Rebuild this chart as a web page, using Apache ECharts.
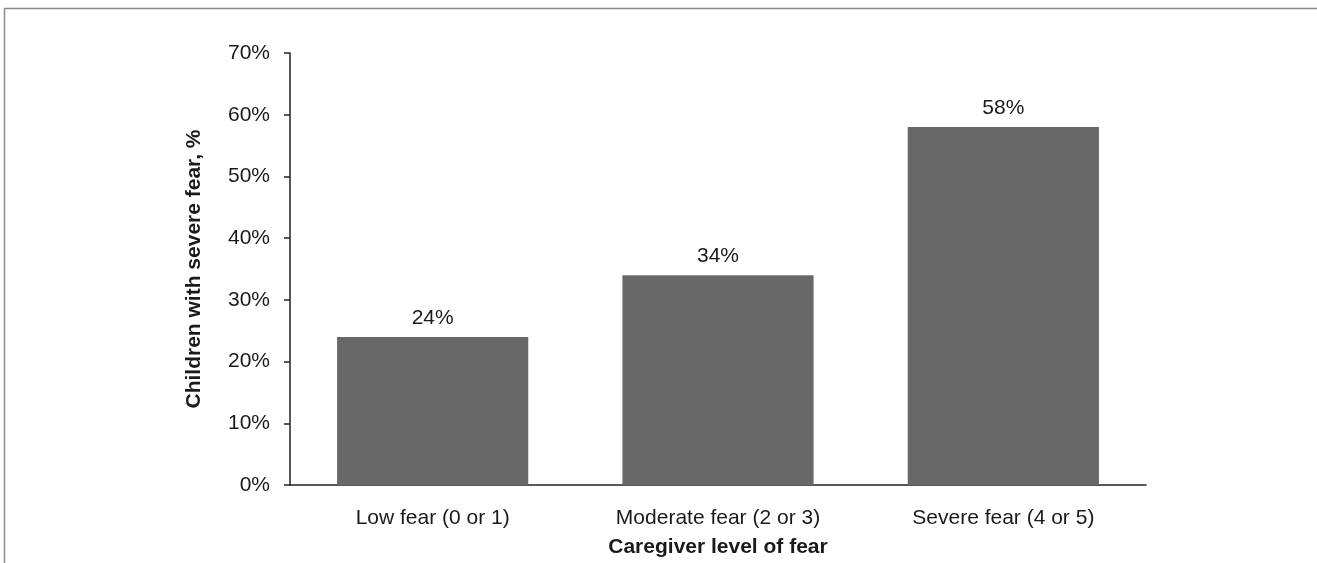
<!DOCTYPE html>
<html>
<head>
<meta charset="utf-8">
<script src="https://cdn.jsdelivr.net/npm/echarts@6/dist/echarts.min.js"></script>
<style>
  html, body { margin: 0; padding: 0; background: #fff; }
  #chart { width: 1317px; height: 563px; }
</style>
</head>
<body>
<div id="chart"></div>
<script>
// Share of children with severe fear, by caregiver level of fear
const categories = ['Low fear (0 or 1)', 'Moderate fear (2 or 3)', 'Severe fear (4 or 5)'];
const percentValues = [24, 34, 58];
const yTickValues = [0, 10, 20, 30, 40, 50, 60, 70];

const FONT = '"Liberation Sans", Arial, Helvetica, sans-serif';
const TEXT = '#1a1a1a';
const SIZE = 21;

const chart = echarts.init(document.getElementById('chart'), null, { renderer: 'canvas' });

chart.setOption({
  animation: false,
  backgroundColor: '#fff',
  grid: { left: 290, right: 171, top: 53, bottom: 76, containLabel: false },
  xAxis: {
    type: 'category',
    data: categories,
    axisLine: { show: true, lineStyle: { color: '#222', width: 1.5 } },
    axisTick: { show: false },
    axisLabel: { color: TEXT, fontFamily: FONT, fontSize: SIZE, margin: 23 },
    name: 'Caregiver level of fear',
    nameLocation: 'middle',
    nameGap: 52,
    nameTextStyle: { color: TEXT, fontFamily: FONT, fontSize: SIZE, fontWeight: 'bold' }
  },
  yAxis: {
    type: 'value',
    min: yTickValues[0],
    max: yTickValues[yTickValues.length - 1],
    interval: 10,
    axisLine: { show: true, lineStyle: { color: '#222', width: 1.5 } },
    axisTick: { show: true, length: 6, lineStyle: { color: '#222', width: 1.5 } },
    splitLine: { show: false },
    axisLabel: {
      color: TEXT, fontFamily: FONT, fontSize: SIZE, margin: 20,
      formatter: v => v + '%'
    },
    name: 'Children with severe fear, %',
    nameLocation: 'middle',
    nameGap: 85,
    nameTextStyle: { color: TEXT, fontFamily: FONT, fontSize: SIZE, fontWeight: 'bold' }
  },
  series: [{
    type: 'bar',
    data: percentValues,
    barCategoryGap: '33%',
    itemStyle: { color: '#686868' },
    label: {
      show: true,
      position: 'top',
      distance: 8,
      color: TEXT,
      fontFamily: FONT,
      fontSize: SIZE,
      formatter: p => p.value + '%'
    }
  }],
  graphic: [
    { type: 'line', shape: { x1: 4, y1: 8.5, x2: 1317, y2: 8.5 }, style: { stroke: '#8a8a8a', lineWidth: 1.5 } },
    { type: 'line', shape: { x1: 4.5, y1: 8, x2: 4.5, y2: 563 }, style: { stroke: '#8a8a8a', lineWidth: 1.5 } }
  ]
});
</script>
</body>
</html>
